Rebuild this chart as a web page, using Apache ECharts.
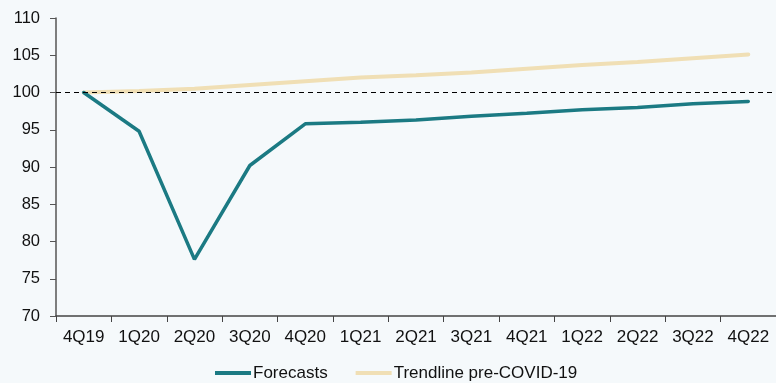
<!DOCTYPE html>
<html>
<head>
<meta charset="utf-8">
<script src="https://cdn.jsdelivr.net/npm/echarts@6/dist/echarts.min.js"></script>
<style>
  html, body { margin: 0; padding: 0; background: #f5f9fb; }
  #chart { width: 776px; height: 383px; }
</style>
</head>
<body>
<div id="chart"></div>
<script>
// Quarterly GDP index (4Q19 = 100)
const quarters = ['4Q19', '1Q20', '2Q20', '3Q20', '4Q20', '1Q21', '2Q21', '3Q21', '4Q21', '1Q22', '2Q22', '3Q22', '4Q22'];
const forecasts = [100, 94.8, 77.6, 90.2, 95.8, 96.0, 96.3, 96.8, 97.2, 97.7, 98.0, 98.5, 98.8];
const trendline = [100, 100.2, 100.5, 101.0, 101.5, 102.0, 102.3, 102.7, 103.2, 103.7, 104.1, 104.6, 105.1];
const yTicks = { min: 70, max: 110, step: 5 };
const baseline = 100;

const font = 'Liberation Sans, Arial, sans-serif';
const chart = echarts.init(document.getElementById('chart'));

chart.setOption({
  backgroundColor: '#f5f9fb',
  animation: false,
  textStyle: { fontFamily: font, color: '#111' },
  grid: { left: 56, top: 18, width: 724, height: 298 },
  legend: {
    left: 215,
    top: 364,
    padding: 0,
    itemWidth: 36,
    itemHeight: 4,
    itemGap: 28,
    icon: 'rect',
    textStyle: { fontFamily: font, fontSize: 17, lineHeight: 18, color: '#111', padding: [0, 0, 0, -3] },
    data: ['Forecasts', 'Trendline pre-COVID-19']
  },
  xAxis: {
    type: 'category',
    data: quarters,
    boundaryGap: true,
    axisLine: { lineStyle: { color: '#444', width: 1.5 } },
    axisTick: { show: true, length: 6, lineStyle: { color: '#444' } },
    axisLabel: { fontFamily: font, fontSize: 17, color: '#111', margin: 13, interval: 0 }
  },
  yAxis: {
    type: 'value',
    min: yTicks.min,
    max: yTicks.max,
    interval: yTicks.step,
    splitLine: { show: false },
    axisLine: { show: true, lineStyle: { color: '#555', width: 1.5 } },
    axisTick: { show: true, length: 6, lineStyle: { color: '#555' } },
    axisLabel: { fontFamily: font, fontSize: 16.5, color: '#111', margin: 16 }
  },
  series: [
    {
      name: 'Trendline pre-COVID-19',
      type: 'line',
      data: trendline,
      symbol: 'none',
      color: '#f0dfb5',
      lineStyle: { color: '#f0dfb5', width: 4, cap: 'round' },
      z: 2,
      markLine: {
        silent: true,
        symbol: 'none',
        label: { show: false },
        lineStyle: { color: '#000', type: [5, 4], width: 1 },
        data: [{ yAxis: baseline }]
      }
    },
    {
      name: 'Forecasts',
      type: 'line',
      data: forecasts,
      symbol: 'none',
      color: '#1b7a83',
      lineStyle: { color: '#1b7a83', width: 3.5, cap: 'round' },
      z: 3
    }
  ]
});
</script>
</body>
</html>
